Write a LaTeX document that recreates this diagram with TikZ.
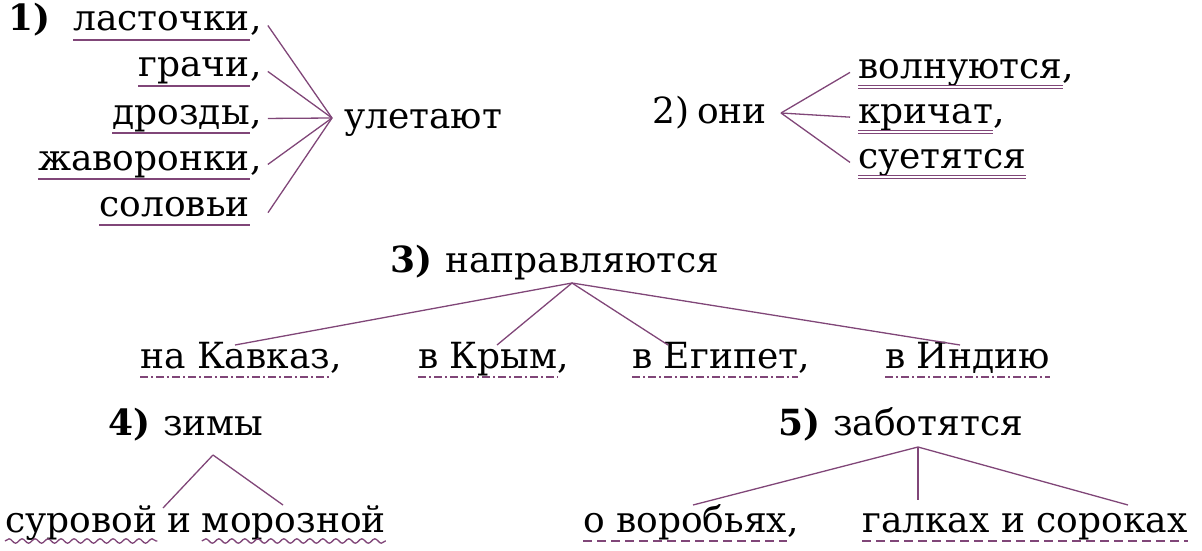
\documentclass[tikz,border=0pt]{standalone}
\usepackage{fontspec}
\setmainfont{DejaVu Serif}
\usetikzlibrary{positioning,decorations.pathmorphing}
\definecolor{lilac}{RGB}{128,70,120}
\newcommand\ulword[2]{\draw[#1] ([yshift=-9pt]#2.base west) -- ([yshift=-9pt]#2.base east);}
\begin{document}
\begin{tikzpicture}[x=1pt, y=1pt,
  word/.style = {inner sep=0pt, font=\fontsize{36}{42}\selectfont},
  num/.style = {inner sep=0pt, font=\fontsize{36}{42}\selectfont\bfseries},
  edge/.style = {draw=lilac, line width=1.3pt},
  subj/.style = {draw=lilac, line width=1.6pt},
  pred/.style = {draw=lilac, line width=1.1pt, double=white, double distance=2.2pt},
  obj/.style = {draw=lilac, line width=1.6pt, dash pattern=on 9pt off 5pt},
  adv/.style = {draw=lilac, line width=1.6pt, dash pattern=on 8pt off 3pt on 2pt off 3pt},
  attr/.style = {draw=lilac, line width=1.3pt, decorate, decoration={snake, amplitude=2.2pt, segment length=13pt}}]
\useasboundingbox (0,0) rectangle (1202,-551);

% 1)
\node[num, anchor=base west] (n1) at (8,-31) {1)};
\node[word, anchor=base east] (a1) at (250,-31) {ласточки};
\node[word, anchor=base east] (a2) at (250,-77) {грачи};
\node[word, anchor=base east] (a3) at (250,-124) {дрозды};
\node[word, anchor=base east] (a4) at (250,-170) {жаворонки};
\node[word, anchor=base east] (a5) at (250,-216) {соловьи};
\node[word, anchor=base west] (c1) at (a1.base east) {,};
\node[word, anchor=base west] (c2) at (a2.base east) {,};
\node[word, anchor=base west] (c3) at (a3.base east) {,};
\node[word, anchor=base west] (c4) at (a4.base east) {,};
\coordinate (v1) at (332,-118);
\node[word, anchor=base west] (p1) at (344,-128) {улетают};
\foreach \w in {a1,a2,a3,a4,a5} {\ulword{subj}{\w}}
\draw[edge] ([xshift=6pt,yshift=6pt]c1.east) -- (v1);
\draw[edge] ([xshift=6pt,yshift=6pt]c2.east) -- (v1);
\draw[edge] ([xshift=6pt,yshift=6pt]c3.east) -- (v1);
\draw[edge] ([xshift=6pt,yshift=6pt]c4.east) -- (v1);
\draw[edge] ([xshift=18pt,yshift=-6pt]a5.east) -- (v1);

% 2)
\node[word, anchor=base west] (n2) at (652,-123) {2)};
\node[word, anchor=base west] (s2) at (697,-123) {они};
\coordinate (v2) at (781,-113);
\node[word, anchor=base west] (b1) at (858,-78) {волнуются};
\node[word, anchor=base west] (b2) at (858,-123) {кричат};
\node[word, anchor=base west] (b3) at (858,-168) {суетятся};
\node[word, anchor=base west] at (b1.base east) {,};
\node[word, anchor=base west] at (b2.base east) {,};
\foreach \w in {b1,b2,b3} {\ulword{pred}{\w}}
\draw[edge] (v2) -- ([xshift=-8pt]b1.west);
\draw[edge] (v2) -- ([xshift=-8pt]b2.west);
\draw[edge] (v2) -- ([xshift=-8pt]b3.west);

% 3)
\node[num, anchor=base west] (n3) at (390,-272) {3)};
\node[word, anchor=base west] (p3) at (445,-272) {направляются};
\coordinate (v3) at (572,-283);
\node[word, anchor=base west] (d1) at (140,-368) {на Кавказ};
\node[word, anchor=base west] (d2) at (418,-368) {в Крым};
\node[word, anchor=base west] (d3) at (632,-368) {в Египет};
\node[word, anchor=base west] (d4) at (885,-368) {в Индию};
\node[word, anchor=base west] at (d1.base east) {,};
\node[word, anchor=base west] at (d2.base east) {,};
\node[word, anchor=base west] at (d3.base east) {,};
\foreach \w in {d1,d2,d3,d4} {\ulword{adv}{\w}}
\draw[edge] (v3) -- (235,-345);
\draw[edge] (v3) -- (497,-345);
\draw[edge] (v3) -- (668,-345);
\draw[edge] (v3) -- (960,-345);

% 4)
\node[num, anchor=base west] (n4) at (108,-435) {4)};
\node[word, anchor=base west] (s4) at (163,-435) {зимы};
\coordinate (v4) at (213,-455);
\node[word, anchor=base west] (e1) at (5,-532) {суровой};
\node[word, anchor=base west] (e0) at ([xshift=10pt]e1.base east) {и};
\node[word, anchor=base west] (e2) at ([xshift=10pt]e0.base east) {морозной};
\ulword{attr}{e1}
\ulword{attr}{e2}
\draw[edge] (v4) -- (163,-508);
\draw[edge] (v4) -- (283,-505);

% 5)
\node[num, anchor=base west] (n5) at (778,-435) {5)};
\node[word, anchor=base west] (p5) at (833,-435) {заботятся};
\coordinate (v5) at (918,-447);
\node[word, anchor=base west] (f1) at (583,-532) {о воробьях};
\node[word, anchor=base west] at (f1.base east) {,};
\node[word, anchor=base west] (f2) at (862,-532) {галках и сороках};
\ulword{obj}{f1}
\ulword{obj}{f2}
\draw[edge] (v5) -- (693,-505);
\draw[edge] (v5) -- (918,-500);
\draw[edge] (v5) -- (1128,-505);
\end{tikzpicture}
\end{document}
